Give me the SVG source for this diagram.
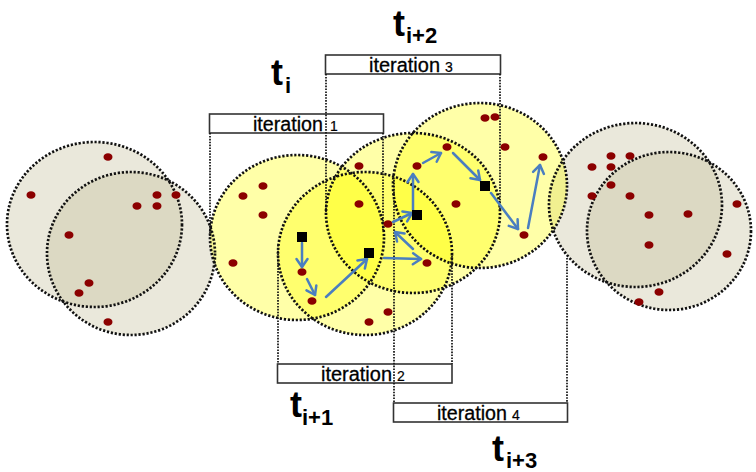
<svg xmlns="http://www.w3.org/2000/svg" width="756" height="472" viewBox="0 0 756 472">
<defs>
<style>
.g{fill:#C4BD97;fill-opacity:0.35}
.y{fill:#FFFF00;fill-opacity:0.34}
.o{fill:none;stroke:#111;stroke-width:2.7;stroke-dasharray:2.2 1.8}
.v{fill:none;stroke:#111;stroke-width:1.7;stroke-dasharray:1.6 1.3}
.d{fill:#8B0000}
.sq{fill:#000}
.box{fill:#fff;stroke:#333;stroke-width:1.6}
.it{font-family:"Liberation Sans",Arial,sans-serif;font-size:20px;fill:#000;stroke:#000;stroke-width:0.3}
.dg{font-family:"Liberation Sans",Arial,sans-serif;font-size:14px;fill:#000;stroke:#000;stroke-width:0.2}
.t{font-family:"Liberation Sans",Arial,sans-serif;font-size:36px;font-weight:bold;fill:#000}
.s{font-family:"Liberation Sans",Arial,sans-serif;font-size:22px;font-weight:bold;fill:#000}
.a{fill:none;stroke:#4A7EC0;stroke-width:2.5;stroke-linecap:round;marker-end:url(#ah)}
</style>
<marker id="ah" markerUnits="userSpaceOnUse" markerWidth="14" markerHeight="14" refX="10" refY="7" orient="auto" overflow="visible">
<path d="M2,1.5 L10,7 L2,12.5" fill="none" stroke="#4A7EC0" stroke-width="2.5" stroke-linecap="round" stroke-linejoin="round"/>
</marker>
</defs>

<g id="cluster-left">
<ellipse class="g" cx="94.5" cy="224.5" rx="87.5" ry="82.5"/>
<ellipse class="g" cx="131" cy="253.5" rx="84" ry="81.5"/>
</g>
<g id="cluster-right">
<ellipse class="g" cx="635.5" cy="205" rx="86.5" ry="82"/>
<ellipse class="g" cx="669" cy="231" rx="82" ry="79"/>
</g>
<g id="window-ti"><ellipse class="y" cx="297" cy="237.5" rx="87" ry="82.5"/></g>
<g id="window-ti1"><ellipse class="y" cx="365" cy="253.5" rx="87" ry="81.5"/></g>
<g id="window-ti2"><ellipse class="y" cx="413" cy="213" rx="87" ry="80"/></g>
<g id="window-ti3"><ellipse class="y" cx="480" cy="185.5" rx="87" ry="82.5"/></g>

<g id="outlines">
<ellipse class="o" cx="94.5" cy="224.5" rx="87.5" ry="82.5"/>
<ellipse class="o" cx="131" cy="253.5" rx="84" ry="81.5"/>
<ellipse class="o" cx="635.5" cy="205" rx="86.5" ry="82"/>
<ellipse class="o" cx="669" cy="231" rx="82" ry="79"/>
<ellipse class="o" cx="297" cy="237.5" rx="87" ry="82.5"/>
<ellipse class="o" cx="365" cy="253.5" rx="87" ry="81.5"/>
<ellipse class="o" cx="413" cy="213" rx="87" ry="80"/>
<ellipse class="o" cx="480" cy="185.5" rx="87" ry="82.5"/>
</g>

<g id="iteration-1">
<rect class="box" x="209.5" y="114" width="174" height="19"/>
<text class="it" x="253" y="131" textLength="70" lengthAdjust="spacingAndGlyphs">iteration</text>
<text class="dg" x="330" y="131">1</text>
</g>
<g id="iteration-2">
<rect class="box" x="277.5" y="364" width="174.5" height="19"/>
<text class="it" x="321" y="381" textLength="71" lengthAdjust="spacingAndGlyphs">iteration</text>
<text class="dg" x="397" y="381">2</text>
</g>
<g id="iteration-3">
<rect class="box" x="325.5" y="55" width="175" height="19"/>
<text class="it" x="369" y="72" textLength="71" lengthAdjust="spacingAndGlyphs">iteration</text>
<text class="dg" x="445" y="72">3</text>
</g>
<g id="iteration-4">
<rect class="box" x="393.5" y="403" width="174" height="19"/>
<text class="it" x="437" y="420" textLength="70" lengthAdjust="spacingAndGlyphs">iteration</text>
<text class="dg" x="512" y="420">4</text>
</g>

<g id="guides">
<line class="v" x1="210" y1="133" x2="210" y2="238"/>
<line class="v" x1="383" y1="133" x2="383" y2="230"/>
<line class="v" x1="326" y1="74" x2="326" y2="213"/>
<line class="v" x1="500" y1="74" x2="500" y2="210"/>
<line class="v" x1="278" y1="245" x2="278" y2="364"/>
<line class="v" x1="452" y1="253" x2="452" y2="364"/>
<line class="v" x1="394" y1="180" x2="394" y2="403"/>
<line class="v" x1="567" y1="258" x2="567" y2="403"/>
</g>

<g id="points">
<ellipse class="d" cx="108" cy="157" rx="4.5" ry="3.8"/>
<ellipse class="d" cx="31" cy="195" rx="4.5" ry="3.8"/>
<ellipse class="d" cx="157" cy="195" rx="4.5" ry="3.8"/>
<ellipse class="d" cx="176" cy="195" rx="4.5" ry="3.8"/>
<ellipse class="d" cx="137" cy="206" rx="4.5" ry="3.8"/>
<ellipse class="d" cx="157" cy="206" rx="4.5" ry="3.8"/>
<ellipse class="d" cx="69" cy="235" rx="4.5" ry="3.8"/>
<ellipse class="d" cx="89" cy="283" rx="4.5" ry="3.8"/>
<ellipse class="d" cx="79" cy="293" rx="4.5" ry="3.8"/>
<ellipse class="d" cx="108" cy="322" rx="4.5" ry="3.8"/>

<ellipse class="d" cx="611" cy="156" rx="4.5" ry="3.8"/>
<ellipse class="d" cx="630" cy="156" rx="4.5" ry="3.8"/>
<ellipse class="d" cx="592" cy="167" rx="4.5" ry="3.8"/>
<ellipse class="d" cx="611" cy="167" rx="4.5" ry="3.8"/>
<ellipse class="d" cx="611" cy="185" rx="4.5" ry="3.8"/>
<ellipse class="d" cx="592" cy="196" rx="4.5" ry="3.8"/>
<ellipse class="d" cx="630" cy="196" rx="4.5" ry="3.8"/>
<ellipse class="d" cx="649" cy="215" rx="4.5" ry="3.8"/>
<ellipse class="d" cx="688" cy="214" rx="4.5" ry="3.8"/>
<ellipse class="d" cx="737" cy="204" rx="4.5" ry="3.8"/>
<ellipse class="d" cx="649" cy="245" rx="4.5" ry="3.8"/>
<ellipse class="d" cx="727" cy="254" rx="4.5" ry="3.8"/>
<ellipse class="d" cx="659" cy="292" rx="4.5" ry="3.8"/>
<ellipse class="d" cx="639" cy="302" rx="4.5" ry="3.8"/>

<ellipse class="d" cx="263" cy="186" rx="4.5" ry="3.8"/>
<ellipse class="d" cx="243" cy="196" rx="4.5" ry="3.8"/>
<ellipse class="d" cx="263" cy="215" rx="4.5" ry="3.8"/>
<ellipse class="d" cx="233" cy="263" rx="4.5" ry="3.8"/>
<ellipse class="d" cx="302" cy="272" rx="4.5" ry="3.8"/>
<ellipse class="d" cx="312" cy="301" rx="4.5" ry="3.8"/>
<ellipse class="d" cx="359" cy="166" rx="4.5" ry="3.8"/>
<ellipse class="d" cx="359" cy="204" rx="4.5" ry="3.8"/>
<ellipse class="d" cx="388" cy="224" rx="4.5" ry="3.8"/>
<ellipse class="d" cx="388" cy="312" rx="4.5" ry="3.8"/>
<ellipse class="d" cx="369" cy="322" rx="4.5" ry="3.8"/>
<ellipse class="d" cx="485" cy="118" rx="4.5" ry="3.8"/>
<ellipse class="d" cx="495" cy="117" rx="4.5" ry="3.8"/>
<ellipse class="d" cx="505" cy="147" rx="4.5" ry="3.8"/>
<ellipse class="d" cx="447" cy="147" rx="4.5" ry="3.8"/>
<ellipse class="d" cx="417" cy="166" rx="4.5" ry="3.8"/>
<ellipse class="d" cx="456" cy="204" rx="4.5" ry="3.8"/>
<ellipse class="d" cx="543" cy="157" rx="4.5" ry="3.8"/>
<ellipse class="d" cx="524" cy="235" rx="4.5" ry="3.8"/>
<ellipse class="d" cx="427" cy="263" rx="4.5" ry="3.8"/>
</g>

<g id="connectors">
<line class="a" x1="302" y1="243" x2="302" y2="267"/>
<line class="a" x1="307" y1="279" x2="315" y2="295"/>
<line class="a" x1="326" y1="297" x2="367" y2="259"/>
<line class="a" x1="384" y1="258" x2="421" y2="259"/>
<line class="a" x1="413" y1="249" x2="395" y2="232"/>
<line class="a" x1="393" y1="222" x2="412" y2="213"/>
<line class="a" x1="413" y1="210" x2="413" y2="174"/>
<line class="a" x1="423" y1="163" x2="441" y2="153"/>
<line class="a" x1="453" y1="153" x2="480" y2="180"/>
<line class="a" x1="491" y1="193" x2="518" y2="229"/>
<line class="a" x1="528" y1="228" x2="540" y2="165"/>
</g>

<g id="centres">
<rect class="sq" x="297" y="232" width="10" height="10"/>
<rect class="sq" x="364" y="248" width="10" height="10"/>
<rect class="sq" x="412" y="210" width="10" height="10"/>
<rect class="sq" x="480" y="181" width="10" height="10"/>
</g>

<g id="labels">
<text class="t" x="271" y="85">t</text><text class="s" x="285" y="93">i</text>
<text class="t" x="393" y="36">t</text><text class="s" x="406" y="43">i+2</text>
<text class="t" x="290" y="417">t</text><text class="s" x="302" y="425">i+1</text>
<text class="t" x="492" y="461">t</text><text class="s" x="506" y="468">i+3</text>
</g>
</svg>
